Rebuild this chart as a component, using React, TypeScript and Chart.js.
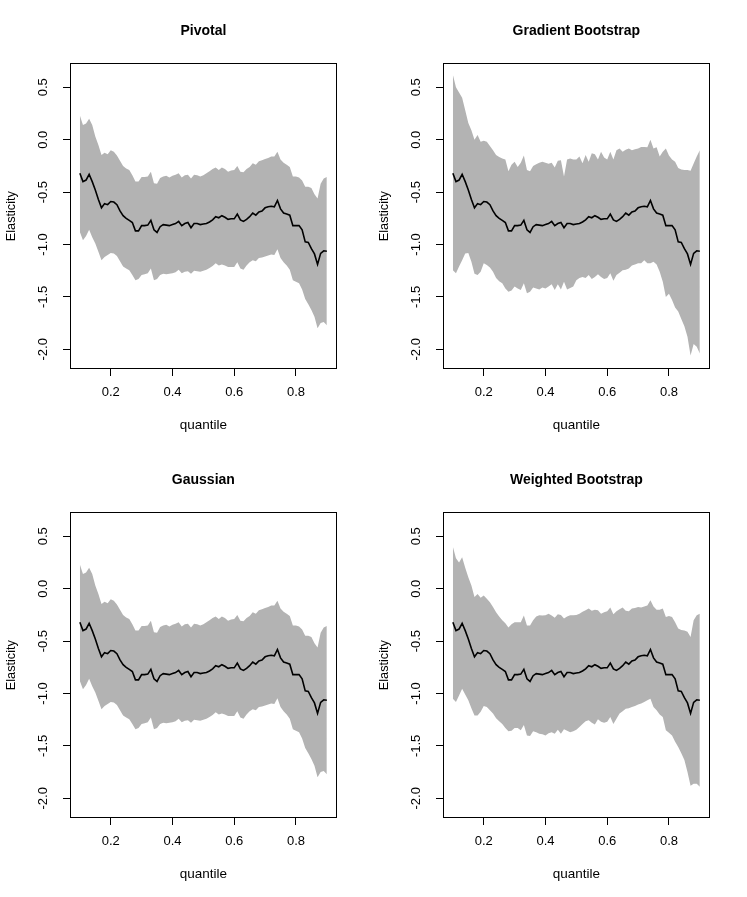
import React, { useEffect, useRef } from "react";
import { Chart, registerables } from "chart.js";

Chart.register(...registerables);

const quantiles = [
  0.10, 0.11, 0.12, 0.13, 0.14, 0.15, 0.16, 0.17, 0.18, 0.19,
  0.20, 0.21, 0.22, 0.23, 0.24, 0.25, 0.26, 0.27, 0.28, 0.29,
  0.30, 0.31, 0.32, 0.33, 0.34, 0.35, 0.36, 0.37, 0.38, 0.39,
  0.40, 0.41, 0.42, 0.43, 0.44, 0.45, 0.46, 0.47, 0.48, 0.49,
  0.50, 0.51, 0.52, 0.53, 0.54, 0.55, 0.56, 0.57, 0.58, 0.59,
  0.60, 0.61, 0.62, 0.63, 0.64, 0.65, 0.66, 0.67, 0.68, 0.69,
  0.70, 0.71, 0.72, 0.73, 0.74, 0.75, 0.76, 0.77, 0.78, 0.79,
  0.80, 0.81, 0.82, 0.83, 0.84, 0.85, 0.86, 0.87, 0.88, 0.89,
  0.90,
];

const estimate = [
  -0.32, -0.40, -0.385, -0.33, -0.40, -0.48, -0.57, -0.65, -0.61, -0.62,
  -0.59, -0.595, -0.62, -0.68, -0.725, -0.75, -0.77, -0.79, -0.87, -0.87,
  -0.82, -0.82, -0.815, -0.77, -0.86, -0.885, -0.83, -0.81, -0.815, -0.82,
  -0.81, -0.80, -0.78, -0.82, -0.80, -0.79, -0.84, -0.80, -0.80, -0.81,
  -0.805, -0.80, -0.785, -0.765, -0.735, -0.745, -0.725, -0.74, -0.76, -0.755,
  -0.755, -0.71, -0.765, -0.78, -0.76, -0.735, -0.70, -0.72, -0.69, -0.68,
  -0.65, -0.64, -0.635, -0.64, -0.58, -0.66, -0.70, -0.71, -0.72, -0.82,
  -0.82, -0.82, -0.86, -0.975, -0.98, -1.04, -1.09, -1.19, -1.085, -1.06,
  -1.065,
];

const pivotalUpper = [
  0.23, 0.14, 0.155, 0.20, 0.14, 0.03, -0.05, -0.145, -0.125, -0.14,
  -0.10, -0.115, -0.15, -0.20, -0.25, -0.275, -0.29, -0.34, -0.40, -0.40,
  -0.355, -0.355, -0.35, -0.305, -0.415, -0.42, -0.365, -0.35, -0.345, -0.36,
  -0.345, -0.335, -0.32, -0.36, -0.34, -0.335, -0.37, -0.335, -0.34, -0.35,
  -0.34, -0.32, -0.30, -0.28, -0.265, -0.29, -0.265, -0.28, -0.305, -0.295,
  -0.29, -0.25, -0.305, -0.31, -0.28, -0.26, -0.225, -0.24, -0.205, -0.195,
  -0.185, -0.175, -0.16, -0.16, -0.115, -0.19, -0.22, -0.24, -0.26, -0.35,
  -0.35, -0.36, -0.39, -0.45, -0.45, -0.46, -0.52, -0.56, -0.42, -0.37,
  -0.355,
];

const pivotalLower = [
  -0.88, -0.96, -0.92, -0.86, -0.93, -0.99, -1.07, -1.15, -1.12, -1.10,
  -1.08, -1.085, -1.11, -1.16, -1.21, -1.23, -1.245, -1.29, -1.34, -1.33,
  -1.29, -1.285, -1.275, -1.23, -1.34, -1.33, -1.29, -1.28, -1.285, -1.28,
  -1.275, -1.265, -1.24, -1.275, -1.26, -1.255, -1.28, -1.25, -1.255, -1.26,
  -1.25, -1.24, -1.225, -1.205, -1.18, -1.20, -1.19, -1.20, -1.215, -1.215,
  -1.215, -1.17, -1.23, -1.24, -1.20, -1.17, -1.15, -1.16, -1.13, -1.125,
  -1.115, -1.105, -1.095, -1.10, -1.045, -1.13, -1.17, -1.20, -1.24, -1.34,
  -1.355, -1.37, -1.43, -1.52, -1.57, -1.625, -1.69, -1.80, -1.75, -1.74,
  -1.77,
];

const gradientUpper = [
  0.62, 0.50, 0.45, 0.40, 0.28, 0.16, 0.09, 0.00, 0.045, -0.02,
  -0.01, -0.02, -0.06, -0.10, -0.145, -0.165, -0.18, -0.19, -0.30, -0.24,
  -0.21, -0.26, -0.22, -0.15, -0.29, -0.30, -0.25, -0.235, -0.22, -0.21,
  -0.22, -0.23, -0.22, -0.265, -0.20, -0.195, -0.35, -0.19, -0.18, -0.19,
  -0.19, -0.16, -0.225, -0.145, -0.21, -0.13, -0.14, -0.19, -0.115, -0.17,
  -0.19, -0.115, -0.19, -0.10, -0.085, -0.115, -0.095, -0.083, -0.10, -0.09,
  -0.083, -0.07, -0.07, -0.073, 0.00, -0.083, -0.073, -0.16, -0.115, -0.083,
  -0.15, -0.19, -0.21, -0.27, -0.285, -0.29, -0.29, -0.296, -0.226, -0.16,
  -0.10,
];

const gradientLower = [
  -1.245, -1.275, -1.21, -1.15, -1.085, -1.08, -1.165, -1.28, -1.29, -1.26,
  -1.18, -1.195, -1.22, -1.26, -1.32, -1.35, -1.37, -1.42, -1.45, -1.44,
  -1.40, -1.42, -1.435, -1.37, -1.465, -1.45, -1.41, -1.42, -1.43, -1.41,
  -1.42, -1.40, -1.38, -1.435, -1.38, -1.43, -1.355, -1.43, -1.415, -1.40,
  -1.34, -1.32, -1.31, -1.32, -1.29, -1.33, -1.31, -1.285, -1.31, -1.33,
  -1.32, -1.275, -1.345, -1.29, -1.27, -1.245, -1.24, -1.23, -1.20, -1.19,
  -1.18, -1.18, -1.15, -1.18, -1.18, -1.165, -1.19, -1.26, -1.355, -1.50,
  -1.47, -1.53, -1.60, -1.64, -1.71, -1.78, -1.88, -2.06, -1.95, -1.975,
  -2.04,
];

const gaussianUpper = [
  0.23, 0.14, 0.155, 0.20, 0.14, 0.03, -0.05, -0.145, -0.125, -0.14,
  -0.10, -0.115, -0.15, -0.20, -0.25, -0.275, -0.29, -0.34, -0.40, -0.40,
  -0.355, -0.355, -0.35, -0.305, -0.415, -0.42, -0.365, -0.35, -0.345, -0.36,
  -0.345, -0.335, -0.32, -0.36, -0.34, -0.335, -0.37, -0.335, -0.34, -0.35,
  -0.34, -0.32, -0.30, -0.28, -0.265, -0.29, -0.265, -0.28, -0.305, -0.295,
  -0.29, -0.25, -0.305, -0.31, -0.28, -0.26, -0.225, -0.24, -0.205, -0.195,
  -0.185, -0.175, -0.16, -0.16, -0.115, -0.19, -0.22, -0.24, -0.26, -0.35,
  -0.35, -0.36, -0.39, -0.45, -0.45, -0.46, -0.52, -0.56, -0.42, -0.37,
  -0.355,
];

const gaussianLower = [
  -0.88, -0.96, -0.92, -0.86, -0.93, -0.99, -1.07, -1.15, -1.12, -1.10,
  -1.08, -1.085, -1.11, -1.16, -1.21, -1.23, -1.245, -1.29, -1.34, -1.33,
  -1.29, -1.285, -1.275, -1.23, -1.34, -1.33, -1.29, -1.28, -1.285, -1.28,
  -1.275, -1.265, -1.24, -1.275, -1.26, -1.255, -1.28, -1.25, -1.255, -1.26,
  -1.25, -1.24, -1.225, -1.205, -1.18, -1.20, -1.19, -1.20, -1.215, -1.215,
  -1.215, -1.17, -1.23, -1.24, -1.20, -1.17, -1.15, -1.16, -1.13, -1.125,
  -1.115, -1.105, -1.095, -1.10, -1.045, -1.13, -1.17, -1.20, -1.24, -1.34,
  -1.355, -1.37, -1.43, -1.52, -1.57, -1.625, -1.69, -1.80, -1.75, -1.74,
  -1.77,
];

const weightedUpper = [
  0.40, 0.29, 0.25, 0.30, 0.20, 0.11, 0.03, -0.08, -0.05, -0.086,
  -0.064, -0.095, -0.13, -0.175, -0.225, -0.265, -0.30, -0.33, -0.37, -0.34,
  -0.32, -0.32, -0.32, -0.255, -0.35, -0.35, -0.30, -0.265, -0.254, -0.255,
  -0.254, -0.24, -0.255, -0.277, -0.245, -0.25, -0.285, -0.265, -0.254, -0.254,
  -0.25, -0.24, -0.22, -0.205, -0.19, -0.21, -0.20, -0.205, -0.24, -0.225,
  -0.215, -0.18, -0.245, -0.215, -0.195, -0.18, -0.21, -0.215, -0.19, -0.185,
  -0.175, -0.18, -0.17, -0.16, -0.11, -0.17, -0.20, -0.20, -0.19, -0.27,
  -0.26, -0.27, -0.32, -0.38, -0.395, -0.40, -0.41, -0.46, -0.30, -0.254,
  -0.24,
];

const weightedLower = [
  -1.05, -1.08, -1.02, -0.955, -1.01, -1.065, -1.14, -1.21, -1.21, -1.175,
  -1.12, -1.13, -1.16, -1.19, -1.235, -1.265, -1.29, -1.33, -1.36, -1.355,
  -1.33, -1.33, -1.35, -1.30, -1.40, -1.405, -1.36, -1.37, -1.385, -1.39,
  -1.40, -1.38, -1.37, -1.385, -1.345, -1.385, -1.34, -1.355, -1.37, -1.36,
  -1.345, -1.32, -1.29, -1.265, -1.255, -1.28, -1.295, -1.245, -1.27, -1.28,
  -1.27, -1.225, -1.29, -1.24, -1.19, -1.17, -1.145, -1.14, -1.13, -1.12,
  -1.105, -1.095, -1.08, -1.065, -1.05, -1.13, -1.16, -1.20, -1.225, -1.35,
  -1.375, -1.40, -1.46, -1.51, -1.57, -1.635, -1.75, -1.88, -1.86, -1.86,
  -1.89,
];

const xTicks = [0.2, 0.4, 0.6, 0.8];
const yTicks = [-2.0, -1.5, -1.0, -0.5, 0.0, 0.5];

const panelTitles = ["Pivotal", "Gradient Bootstrap", "Gaussian", "Weighted Bootstrap"];
const xLabel = "quantile";
const yLabel = "Elasticity";

const FONT = '"Liberation Sans", Arial, Helvetica, sans-serif';

const boxPlugin = {
  id: "rbox",
  afterDatasetsDraw(chart: any) {
    const { ctx, chartArea } = chart;
    const l = Math.round(chartArea.left) + 0.5;
    const t = Math.round(chartArea.top) + 0.5;
    const r = Math.round(chartArea.right) - 0.5;
    const b = Math.round(chartArea.bottom) - 0.5;
    ctx.save();
    ctx.strokeStyle = "#000";
    ctx.lineWidth = 1;
    ctx.strokeRect(l, t, r - l, b - t);
    ctx.restore();
  },
};

function pts(arr: number[]) {
  return quantiles.map((q, i) => ({ x: q, y: arr[i] }));
}

function Panel(props: { title: string; upper: number[]; lower: number[]; left: number; top: number }) {
  const ref = useRef<HTMLCanvasElement | null>(null);
  useEffect(() => {
    if (!ref.current) return;
    const chart = new Chart(ref.current, {
      type: "line",
      data: {
        datasets: [
          {
            label: "estimate",
            data: pts(estimate),
            borderColor: "#000",
            borderWidth: 1.6,
            pointRadius: 0,
            tension: 0,
            fill: false,
          },
          {
            label: "upper",
            data: pts(props.upper),
            borderColor: "rgba(0,0,0,0)",
            borderWidth: 0,
            backgroundColor: "#B3B3B3",
            pointRadius: 0,
            tension: 0,
            fill: "+1",
          },
          {
            label: "lower",
            data: pts(props.lower),
            borderColor: "rgba(0,0,0,0)",
            borderWidth: 0,
            backgroundColor: "#B3B3B3",
            pointRadius: 0,
            tension: 0,
            fill: false,
          },
        ],
      },
      options: {
        animation: false,
        responsive: false,
        devicePixelRatio: 1,
        layout: { padding: { top: 0, right: 36.3, bottom: 0, left: 0 } },
        plugins: {
          legend: { display: false },
          tooltip: { enabled: false },
          title: {
            display: true,
            text: props.title,
            fullSize: false,
            color: "#000",
            font: { family: FONT, size: 14, weight: "bold" },
            padding: { top: 23, bottom: 23.5 },
          },
        },
        scales: {
          x: {
            type: "linear",
            min: 0.068,
            max: 0.932,
            afterBuildTicks: (s: any) => {
              s.ticks = xTicks.map((v) => ({ value: v }));
            },
            afterFit: (s: any) => {
              s.height = 79;
            },
            ticks: {
              autoSkip: false,
              maxRotation: 0,
              minRotation: 0,
              padding: 9,
              color: "#000",
              font: { family: FONT, size: 13 },
              callback: (v: any) => Number(v).toFixed(1),
            },
            grid: {
              display: true,
              drawOnChartArea: false,
              drawTicks: true,
              tickLength: 7,
              color: "#000",
              lineWidth: 1,
            },
            border: { display: false },
            title: {
              display: true,
              text: xLabel,
              color: "#000",
              font: { family: FONT, size: 13.5 },
              padding: { top: 0, bottom: 15 },
            },
          },
          y: {
            type: "linear",
            min: -2.188,
            max: 0.729,
            afterBuildTicks: (s: any) => {
              s.ticks = yTicks.map((v) => ({ value: v }));
            },
            afterFit: (s: any) => {
              s.width = 70;
            },
            ticks: {
              autoSkip: false,
              minRotation: 90,
              maxRotation: 90,
              crossAlign: "center",
              padding: 8.5,
              color: "#000",
              font: { family: FONT, size: 13 },
              callback: (v: any) => Number(v).toFixed(1),
            },
            grid: {
              display: true,
              drawOnChartArea: false,
              drawTicks: true,
              tickLength: 7,
              color: "#000",
              lineWidth: 1,
            },
            border: { display: false },
            title: {
              display: true,
              text: yLabel,
              color: "#000",
              font: { family: FONT, size: 12.7 },
              padding: { top: 4.3, bottom: 0 },
            },
          },
        },
      } as any,
      plugins: [boxPlugin],
    });
    return () => chart.destroy();
  }, []);
  return (
    <canvas
      ref={ref}
      width={373}
      height={448}
      style={{ position: "absolute", left: props.left, top: props.top, width: 373, height: 448 }}
    />
  );
}

export default function App() {
  return (
    <div style={{ position: "absolute", left: 0, top: 0, width: 747, height: 897, background: "#fff" }}>
      <Panel title={panelTitles[0]} upper={pivotalUpper} lower={pivotalLower} left={0} top={0} />
      <Panel title={panelTitles[1]} upper={gradientUpper} lower={gradientLower} left={373} top={0} />
      <Panel title={panelTitles[2]} upper={gaussianUpper} lower={gaussianLower} left={0} top={449} />
      <Panel title={panelTitles[3]} upper={weightedUpper} lower={weightedLower} left={373} top={449} />
    </div>
  );
}
